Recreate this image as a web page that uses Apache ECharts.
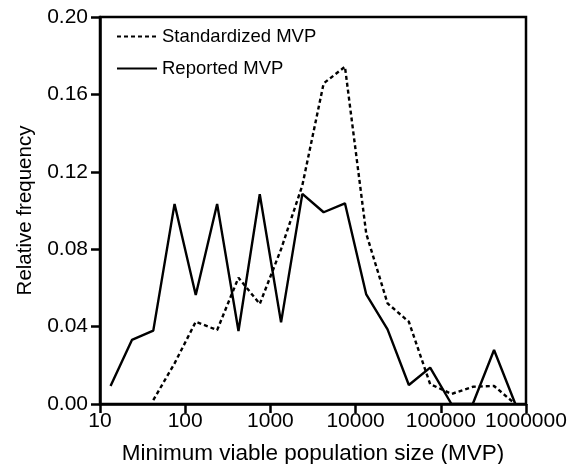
<!DOCTYPE html>
<html lang="en">
<head>
    <meta charset="UTF-8">
    <title>MVP chart</title>
    <script src="https://cdn.jsdelivr.net/npm/echarts@6/dist/echarts.min.js"></script>
    <style>
        body { margin: 0; background: #fff; }
        #main { width: 579px; height: 464px; }
    </style>
</head>
<body>
    <div id="main"></div>

    <script>
        // bin centres (MVP), log spaced
        var mvp = [13.3, 23.7, 42.2, 75, 133, 237, 422, 750, 1334, 2371,
            4217, 7499, 13335, 23714, 42170, 74989, 133352, 237137, 421697, 749894];
        var standardized = [null, null, 0.002, 0.021, 0.0425, 0.0382, 0.0653, 0.0517, 0.080, 0.113,
            0.1657, 0.1743, 0.088, 0.052, 0.0425, 0.0103, 0.0052, 0.0089, 0.0093, 0];
        var reported = [0.0093, 0.0331, 0.0379, 0.1034, 0.0563, 0.1034, 0.0377, 0.1084, 0.0422, 0.1086,
            0.0991, 0.1037, 0.0566, 0.0386, 0.0098, 0.0188, 0, 0, 0.0279, 0];

        function pairs(ys) {
            var out = [];
            for (var i = 0; i < mvp.length; i++) {
                if (ys[i] !== null) out.push([mvp[i], ys[i]]);
            }
            return out;
        }

        var font = 'Liberation Sans, Arial, sans-serif';
        var chart = echarts.init(document.getElementById('main'));

        var option = {
            animation: false,
            textStyle: { fontFamily: font, color: '#000' },
            grid: {
                left: 100, right: 53, top: 17, bottom: 60,
                outerBoundsMode: 'none', containLabel: false,
                show: true, borderColor: '#000', borderWidth: 2.5
            },
            legend: {
                orient: 'vertical',
                left: 116, top: 27, padding: 0,
                itemWidth: 40, itemHeight: 14, itemGap: 13,
                itemStyle: { opacity: 0 },
                textStyle: { fontSize: 18.5, color: '#000', fontFamily: font },
                data: ['Standardized MVP', 'Reported MVP']
            },
            xAxis: {
                type: 'log',
                logBase: 10,
                min: 10, max: 1000000,
                name: 'Minimum viable population size (MVP)',
                nameLocation: 'middle',
                nameGap: 38,
                nameTextStyle: { fontSize: 22.5, color: '#000', fontFamily: font },
                axisLine: { lineStyle: { color: '#000', width: 2.5 } },
                axisTick: { length: 9, lineStyle: { color: '#000', width: 2.5 } },
                minorTick: { show: false },
                splitLine: { show: false },
                axisLabel: {
                    fontSize: 21, color: '#000', margin: 7,
                    formatter: function (v) { return String(Math.round(v)); }
                }
            },
            yAxis: {
                type: 'value',
                min: 0, max: 0.2, interval: 0.04,
                name: 'Relative frequency',
                nameLocation: 'middle',
                nameGap: 63,
                nameTextStyle: { fontSize: 20.5, color: '#000', fontFamily: font },
                axisLine: { show: true, lineStyle: { color: '#000', width: 2.5 } },
                axisTick: { show: true, length: 9, lineStyle: { color: '#000', width: 2.5 } },
                splitLine: { show: false },
                axisLabel: {
                    fontSize: 21, color: '#000', margin: 12,
                    formatter: function (v) { return v.toFixed(2); }
                }
            },
            series: [
                {
                    name: 'Standardized MVP',
                    type: 'line',
                    symbol: 'none',
                    data: pairs(standardized),
                    lineStyle: { color: '#000', width: 2.4, type: [4, 3] },
                    itemStyle: { color: '#000' }
                },
                {
                    name: 'Reported MVP',
                    type: 'line',
                    symbol: 'none',
                    data: pairs(reported),
                    lineStyle: { color: '#000', width: 2.4, type: 'solid' },
                    itemStyle: { color: '#000' }
                }
            ]
        };

        chart.setOption(option);
    </script>
</body>
</html>
